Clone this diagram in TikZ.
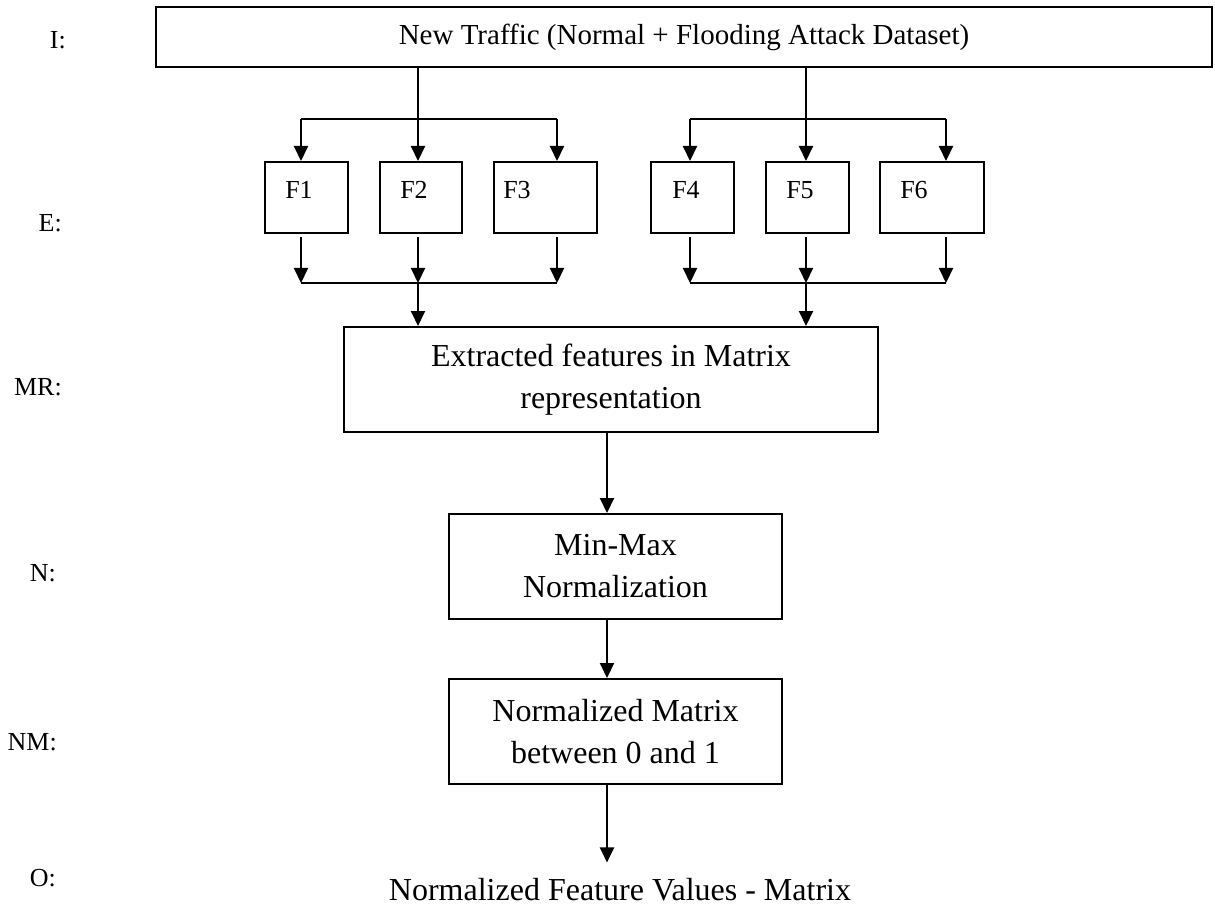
\documentclass[tikz,border=0pt]{standalone}
\usepackage{fontspec}
\setmainfont{Liberation Serif}
\usetikzlibrary{arrows.meta,calc}
\tikzset{
  box/.style={draw, line width=2pt, inner sep=0pt, align=center,
    font=\fontsize{32}{42}\selectfont},
  fbox/.style={draw, line width=2pt, inner sep=0pt, minimum height=71pt},
  ftext/.style={inner sep=0pt, font=\fontsize{26}{30}\selectfont},
  tag/.style={inner sep=0pt, anchor=east, font=\fontsize{26}{30}\selectfont},
  wire/.style={line width=2pt},
  arr/.style={line width=2pt, -{Triangle[length=15pt,width=14pt]}},
}
\begin{document}
\begin{tikzpicture}[x=1pt,y=-1pt]
\useasboundingbox (0,0) rectangle (1215,909);

% stage tags on the left
\node[tag] (tI)  at (66,40)  {I:};
\node[tag] (tE)  at (62,223) {E:};
\node[tag] (tMR) at (62,387) {MR:};
\node[tag] (tN)  at (56,573) {N:};
\node[tag] (tNM) at (57,742) {NM:};
\node[tag] (tO)  at (56,878) {O:};

% input box
\node[draw, line width=2.5pt, inner sep=0pt, minimum width=1056pt, minimum height=60pt,
      font=\fontsize{29}{34}\selectfont] (in) at (684,37)
  {New Traffic (Normal + Flooding Attack Dataset)};

% feature boxes
\node[fbox, minimum width=83pt]  (F1) at (306.5,197.5) {};
\node[fbox, minimum width=82pt]  (F2) at (421,197.5)   {};
\node[fbox, minimum width=103pt] (F3) at (545.5,197.5) {};
\node[fbox, minimum width=83pt]  (F4) at (692.5,197.5) {};
\node[fbox, minimum width=83pt]  (F5) at (807.5,197.5) {};
\node[fbox, minimum width=104pt] (F6) at (932,197.5)   {};
\node[ftext] (l1) at (299,190) {F1};
\node[ftext] (l2) at (414,190) {F2};
\node[ftext] (l3) at (517,190) {F3};
\node[ftext] (l4) at (686,190) {F4};
\node[ftext] (l5) at (800,190) {F5};
\node[ftext] (l6) at (914,190) {F6};

% processing boxes
\node[box, minimum width=534pt, minimum height=105pt] (MR) at (611,379.5)
  {Extracted features in Matrix\\representation};
\node[box, minimum width=333pt, minimum height=105pt] (MM) at (615.5,566.5)
  {Min-Max\\Normalization};
\node[box, minimum width=333pt, minimum height=105pt] (NM) at (615.5,731.5)
  {Normalized Matrix\\between 0 and 1};
\node[inner sep=0pt, font=\fontsize{32}{38}\selectfont] (out) at (620,890)
  {Normalized Feature Values - Matrix};

% branch points
\coordinate (s1)  at (418,119);
\coordinate (sL)  at (301,119);
\coordinate (sR)  at (557,119);
\coordinate (s2)  at (806,119);
\coordinate (sL2) at (690,119);
\coordinate (sR2) at (946,119);
% merge points
\coordinate (m1)  at (418,283);
\coordinate (mL)  at (301,283);
\coordinate (mR)  at (557,283);
\coordinate (m2)  at (806,283);
\coordinate (mL2) at (690,283);
\coordinate (mR2) at (946,283);
\coordinate (ax)  at (607,0);

% split from the input
\draw[wire] (in.south -| s1) -- (s1);
\draw[wire] (sL) -- (sR);
\draw[arr] (sL) -- (sL |- F1.north);
\draw[arr] (s1) -- (s1 |- F2.north);
\draw[arr] (sR) -- (sR |- F3.north);
\draw[wire] (in.south -| s2) -- (s2);
\draw[wire] (sL2) -- (sR2);
\draw[arr] (sL2) -- (sL2 |- F4.north);
\draw[arr] (s2) -- (s2 |- F5.north);
\draw[arr] (sR2) -- (sR2 |- F6.north);

% merge into the matrix
\draw[arr, shorten <=3pt] (F1.south -| mL) -- (mL);
\draw[arr, shorten <=3pt] (F2.south -| m1) -- (m1);
\draw[arr, shorten <=3pt] (F3.south -| mR) -- (mR);
\draw[wire] (mL) -- (mR);
\draw[arr] (m1) -- (m1 |- MR.north);
\draw[arr, shorten <=3pt] (F4.south -| mL2) -- (mL2);
\draw[arr, shorten <=3pt] (F5.south -| m2) -- (m2);
\draw[arr, shorten <=3pt] (F6.south -| mR2) -- (mR2);
\draw[wire] (mL2) -- (mR2);
\draw[arr] (m2) -- (m2 |- MR.north);

% main chain
\draw[arr] (MR.south -| ax) -- (ax |- MM.north);
\draw[arr] (MM.south -| ax) -- (ax |- NM.north);
\draw[arr, shorten >=16pt] (NM.south -| ax) -- (ax |- out.north);
\end{tikzpicture}
\end{document}
